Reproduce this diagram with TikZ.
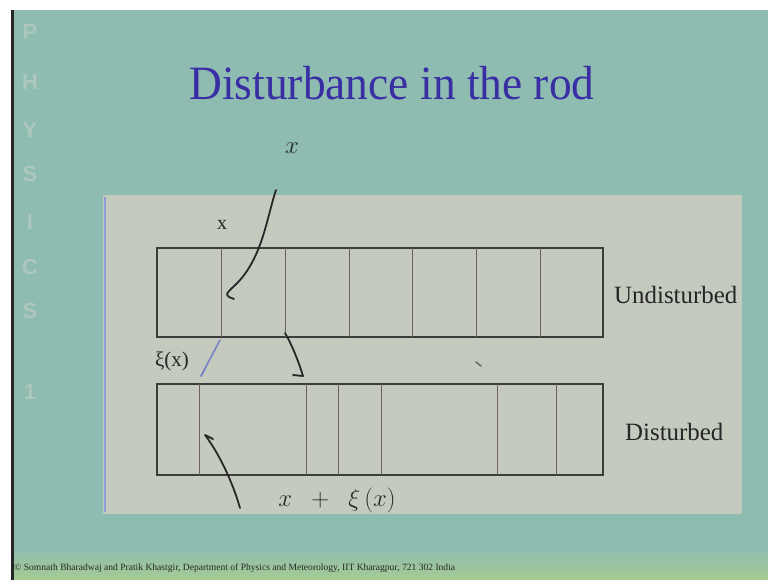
\documentclass[tikz,border=0pt]{standalone}
\usepackage{fontspec}
\setmainfont{Liberation Serif}
\newfontfamily\sidefont{Liberation Sans}
\definecolor{bgteal}{RGB}{143,188,176}
\definecolor{panelgray}{RGB}{197,202,191}
\definecolor{footgreen}{RGB}{165,203,146}
\definecolor{titleblue}{RGB}{58,46,165}
\definecolor{rodline}{RGB}{60,60,58}
\definecolor{divline}{RGB}{110,100,85}
\definecolor{pen}{RGB}{40,40,40}
\definecolor{bluepen}{RGB}{120,130,200}
\begin{document}
\begin{tikzpicture}[x=1bp,y=-1bp,
  rodbox/.style={draw=rodline,line width=1.4bp},
  divider/.style={draw=divline,line width=1bp},
  penstroke/.style={draw=pen,line width=1.8bp,line cap=round,line join=round},
  sideletter/.style={text=white!90!red,opacity=0.28,font=\sidefont\bfseries\fontsize{22}{24}\selectfont},
  lbl/.style={inner sep=0pt,text=black!85}]
\useasboundingbox (0,0) rectangle (768,580);
% background
\fill[white] (0,0) rectangle (768,580);
\fill[bgteal] (11,10) rectangle (768,580);
\shade[top color=bgteal,bottom color=footgreen] (14,548) rectangle (768,580);
\fill[black!85] (11,10) rectangle (14,580);
% side letters
\node[sideletter] (sP) at (30,32) {P};
\node[sideletter] (sH) at (30,82) {H};
\node[sideletter] (sY) at (30,130) {Y};
\node[sideletter] (sS) at (30,174) {S};
\node[sideletter] (sI) at (30,222) {I};
\node[sideletter] (sC) at (30,267) {C};
\node[sideletter] (sS2) at (30,311) {S};
\node[sideletter] (s1) at (30,392) {1};
% title
\node[anchor=base,text=titleblue,font=\fontsize{48}{52}\selectfont,xscale=0.95] (title) at (392,100) {Disturbance in the rod};
% panel
\fill[panelgray] (103,195) rectangle (742,514);
\draw[bluepen!80!white,line width=1.4bp] (105,197) -- (105,512);
% undisturbed rod
\draw[rodbox] (157,248) rectangle (603,337);
\foreach \xx in {221,285,349,412,476,540}{\draw[divider] (\xx,248) -- (\xx,337);}
% disturbed rod
\draw[rodbox] (157,384) rectangle (603,475);
\foreach \xx in {199,306,338,381,497,556}{\draw[divider] (\xx,384) -- (\xx,475);}
% printed labels
\node[lbl,font=\fontsize{20}{22}\selectfont] (xlab) at (222,225) {x};
\node[lbl,font=\fontsize{21}{24}\selectfont] (xilab) at (172,361) {ξ(x)};
\node[lbl,anchor=base west,font=\fontsize{25}{28}\selectfont] (und) at (614,303) {Undisturbed};
\node[lbl,anchor=base west,font=\fontsize{25}{28}\selectfont] (dis) at (625,440) {Disturbed};
\node[lbl,anchor=west,font=\fontsize{9.6}{11}\selectfont] (foot) at (14,568) {© Somnath Bharadwaj and Pratik Khastgir, Department of Physics and Meteorology, IIT Kharagpur, 721 302 India};
% handwritten annotations
\node[text=pen,font=\fontsize{28}{30}\selectfont] (hx) at (292,148) {$x$};
\node[text=pen,font=\fontsize{26}{28}\selectfont] (hxi) at (337,500) {$x\;\;+\;\;\xi\,(x)$};
\coordinate (a1) at (276,190);
\coordinate (a1e) at (232,288);
\draw[penstroke] (a1) .. controls (266,220) and (262,262) .. (a1e) .. controls (226,294) .. (229,297) -- (234,299);
\coordinate (a2) at (285,333);
\coordinate (a2e) at (303,376);
\draw[penstroke] (a2) .. controls (292,345) and (298,360) .. (a2e) -- (293,375);
\coordinate (a3) at (220,340);
\coordinate (a3e) at (201,376);
\draw[bluepen,line width=1.6bp,line cap=round] (a3) -- (a3e);
\draw[bluepen,line width=1.6bp,line cap=round] (a3e) -- (205,369);
\coordinate (a4) at (240,508);
\coordinate (a4e) at (205,435);
\draw[penstroke] (a4) .. controls (232,480) and (218,452) .. (a4e) -- (213,439);
\coordinate (dot) at (478,365);
\draw[pen!70,line width=1.6bp,line cap=round] (476,362) -- (481,366);
\end{tikzpicture}
\end{document}
